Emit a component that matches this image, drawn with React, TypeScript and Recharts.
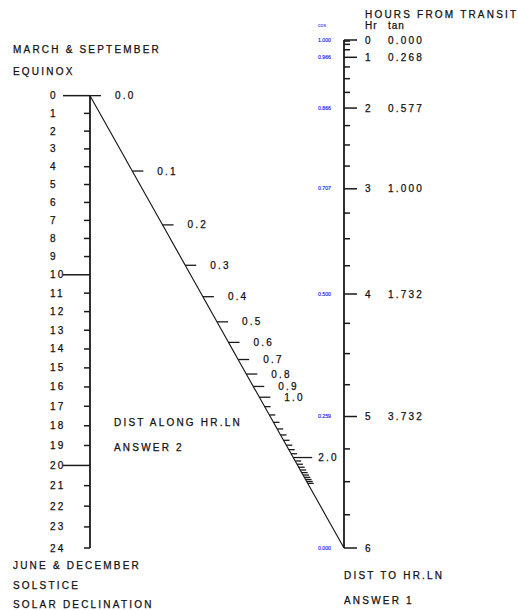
import { ScatterChart, Scatter, XAxis, YAxis, ReferenceLine } from "recharts";

// left scale: solar declination (deg), marked every degree
const declinationTicks = [
  0, 1, 2, 3, 4, 5, 6, 7, 8, 9, 10, 11, 12, 13, 14, 15, 16, 17, 18, 19, 20, 21, 22, 23, 24,
];
const declinationMajor = [0, 10, 20];

// right scale: hours from transit
const hours = [0, 1, 2, 3, 4, 5, 6];
const tanLabels = ["0.000", "0.268", "0.577", "1.000", "1.732", "3.732", ""];
const cosLabels = ["1.000", "0.966", "0.866", "0.707", "0.500", "0.259", "0.000"];
const quarterHours = [
  0.25, 0.5, 0.75, 1.25, 1.5, 1.75, 2.25, 2.5, 2.75, 3.25, 3.5, 3.75, 4.25, 4.5, 4.75,
  5.25, 5.5, 5.75,
];

// diagonal scale: distance along hour line
const distLabelled = [0, 0.1, 0.2, 0.3, 0.4, 0.5, 0.6, 0.7, 0.8, 0.9, 1.0, 2.0];
const distMinor = [
  1.1, 1.2, 1.3, 1.4, 1.5, 1.6, 1.7, 1.8, 1.9, 2.1, 2.2, 2.3, 2.4, 2.5, 2.6, 2.7, 2.8,
  2.9, 3.0,
];

const DEG = Math.PI / 180;
const TAN24 = Math.tan(24 * DEG);
const TOP_V = 1 - 2 * TAN24;
const declV = (d: number) => 1 - 2 * (TAN24 - Math.tan(d * DEG));
const hourV = (h: number) => 1 - Math.cos(15 * h * DEG);
const distT = (d: number) => d / (d + 0.5);

const FONT = "'Liberation Sans', Arial, sans-serif";
const INK = "#1a1a1a";
const BLUE = "#2222ff";

const leftData = declinationTicks.map((d) => ({
  x: 0,
  y: declV(d),
  label: String(d),
  major: declinationMajor.includes(d),
}));
const rightData = hours.map((h, i) => ({
  x: 1,
  y: hourV(h),
  hr: String(h),
  tan: tanLabels[i],
  cos: cosLabels[i],
}));
const quarterData = quarterHours.map((h) => ({ x: 1, y: hourV(h) }));
const diagLabelData = distLabelled.map((d) => ({
  x: distT(d),
  y: TOP_V + distT(d) * (1 - TOP_V),
  label: d.toFixed(1),
  long: d === 2,
}));
const diagMinorData = distMinor.map((d) => ({
  x: distT(d),
  y: TOP_V + distT(d) * (1 - TOP_V),
}));

const textStyle = {
  fontFamily: FONT,
  fontSize: 10,
  letterSpacing: 2.2,
  fill: "#111",
  stroke: "#111",
  strokeWidth: 0.25,
} as const;

function LeftTick(props: any) {
  const { cx, cy, payload } = props;
  return (
    <g>
      <line
        x1={payload.major ? cx - 27 : cx - 6}
        x2={cx}
        y1={cy}
        y2={cy}
        stroke={INK}
        strokeWidth={1.5}
      />
      <text x={cx - 40} y={cy + 3.5} {...textStyle}>
        {payload.label}
      </text>
    </g>
  );
}

function RightTick(props: any) {
  const { cx, cy, payload } = props;
  return (
    <g>
      <line x1={cx} x2={cx + 13} y1={cy} y2={cy} stroke={INK} strokeWidth={1.5} />
      <text x={cx + 21} y={cy + 3.5} {...textStyle}>
        {payload.hr}
      </text>
      <text x={cx + 44} y={cy + 3.5} {...textStyle}>
        {payload.tan}
      </text>
      <text
        x={cx - 26}
        y={cy + 1.7}
        fontFamily={FONT}
        fontSize={5.2}
        fill={BLUE}
        stroke={BLUE}
        strokeWidth={0.15}
      >
        {payload.cos}
      </text>
    </g>
  );
}

function QuarterTick(props: any) {
  const { cx, cy } = props;
  return <line x1={cx} x2={cx + 6} y1={cy} y2={cy} stroke={INK} strokeWidth={1.5} />;
}

function DiagLabelTick(props: any) {
  const { cx, cy, payload } = props;
  return (
    <g>
      <line
        x1={cx}
        x2={cx + (payload.long ? 19 : 11)}
        y1={cy}
        y2={cy}
        stroke={INK}
        strokeWidth={1.3}
      />
      <text x={cx + 25} y={cy + 3.5} {...textStyle}>
        {payload.label}
      </text>
    </g>
  );
}

function DiagMinorTick(props: any) {
  const { cx, cy } = props;
  return <line x1={cx} x2={cx + 6} y1={cy} y2={cy} stroke={INK} strokeWidth={1.3} />;
}

export default function App() {
  return (
    <div
      style={{
        position: "absolute",
        left: 0,
        top: 0,
        width: 518,
        height: 611,
        background: "#fff",
      }}
    >
      <ScatterChart
        width={518}
        height={611}
        margin={{ top: 40, right: 174, bottom: 63, left: 90 }}
      >
        <XAxis type="number" dataKey="x" domain={[0, 1]} hide />
        <YAxis type="number" dataKey="y" domain={[0, 1]} reversed hide />
        <ReferenceLine
          segment={[
            { x: 0, y: declV(0) },
            { x: 0, y: declV(24) },
          ]}
          stroke={INK}
          strokeWidth={1.8}
        />
        <ReferenceLine
          segment={[
            { x: 1, y: 0 },
            { x: 1, y: 1 },
          ]}
          stroke={INK}
          strokeWidth={1.8}
        />
        <ReferenceLine
          segment={[
            { x: 0, y: TOP_V },
            { x: 1, y: 1 },
          ]}
          stroke="#111"
          strokeWidth={1.1}
        />
        <Scatter data={leftData} shape={LeftTick} isAnimationActive={false} />
        <Scatter data={quarterData} shape={QuarterTick} isAnimationActive={false} />
        <Scatter data={rightData} shape={RightTick} isAnimationActive={false} />
        <Scatter data={diagMinorData} shape={DiagMinorTick} isAnimationActive={false} />
        <Scatter data={diagLabelData} shape={DiagLabelTick} isAnimationActive={false} />
      </ScatterChart>
      <svg
        width={518}
        height={611}
        style={{ position: "absolute", left: 0, top: 0, pointerEvents: "none" }}
      >
        <g {...textStyle}>
          <text x={13} y={53}>MARCH &amp; SEPTEMBER</text>
          <text x={13} y={75}>EQUINOX</text>
          <text x={13} y={569}>JUNE &amp; DECEMBER</text>
          <text x={13} y={589}>SOLSTICE</text>
          <text x={13} y={608}>SOLAR DECLINATION</text>
          <text x={114} y={426}>DIST ALONG HR.LN</text>
          <text x={114} y={451}>ANSWER 2</text>
          <text x={365} y={18}>HOURS FROM TRANSIT</text>
          <text x={365} y={29} letterSpacing={1}>Hr</text>
          <text x={388} y={29} letterSpacing={1}>tan</text>
          <text x={344} y={579}>DIST TO HR.LN</text>
          <text x={344} y={604}>ANSWER 1</text>
        </g>
        <text x={318} y={27} fontFamily={FONT} fontSize={5.2} fill={BLUE}>
          cos
        </text>
      </svg>
    </div>
  );
}
